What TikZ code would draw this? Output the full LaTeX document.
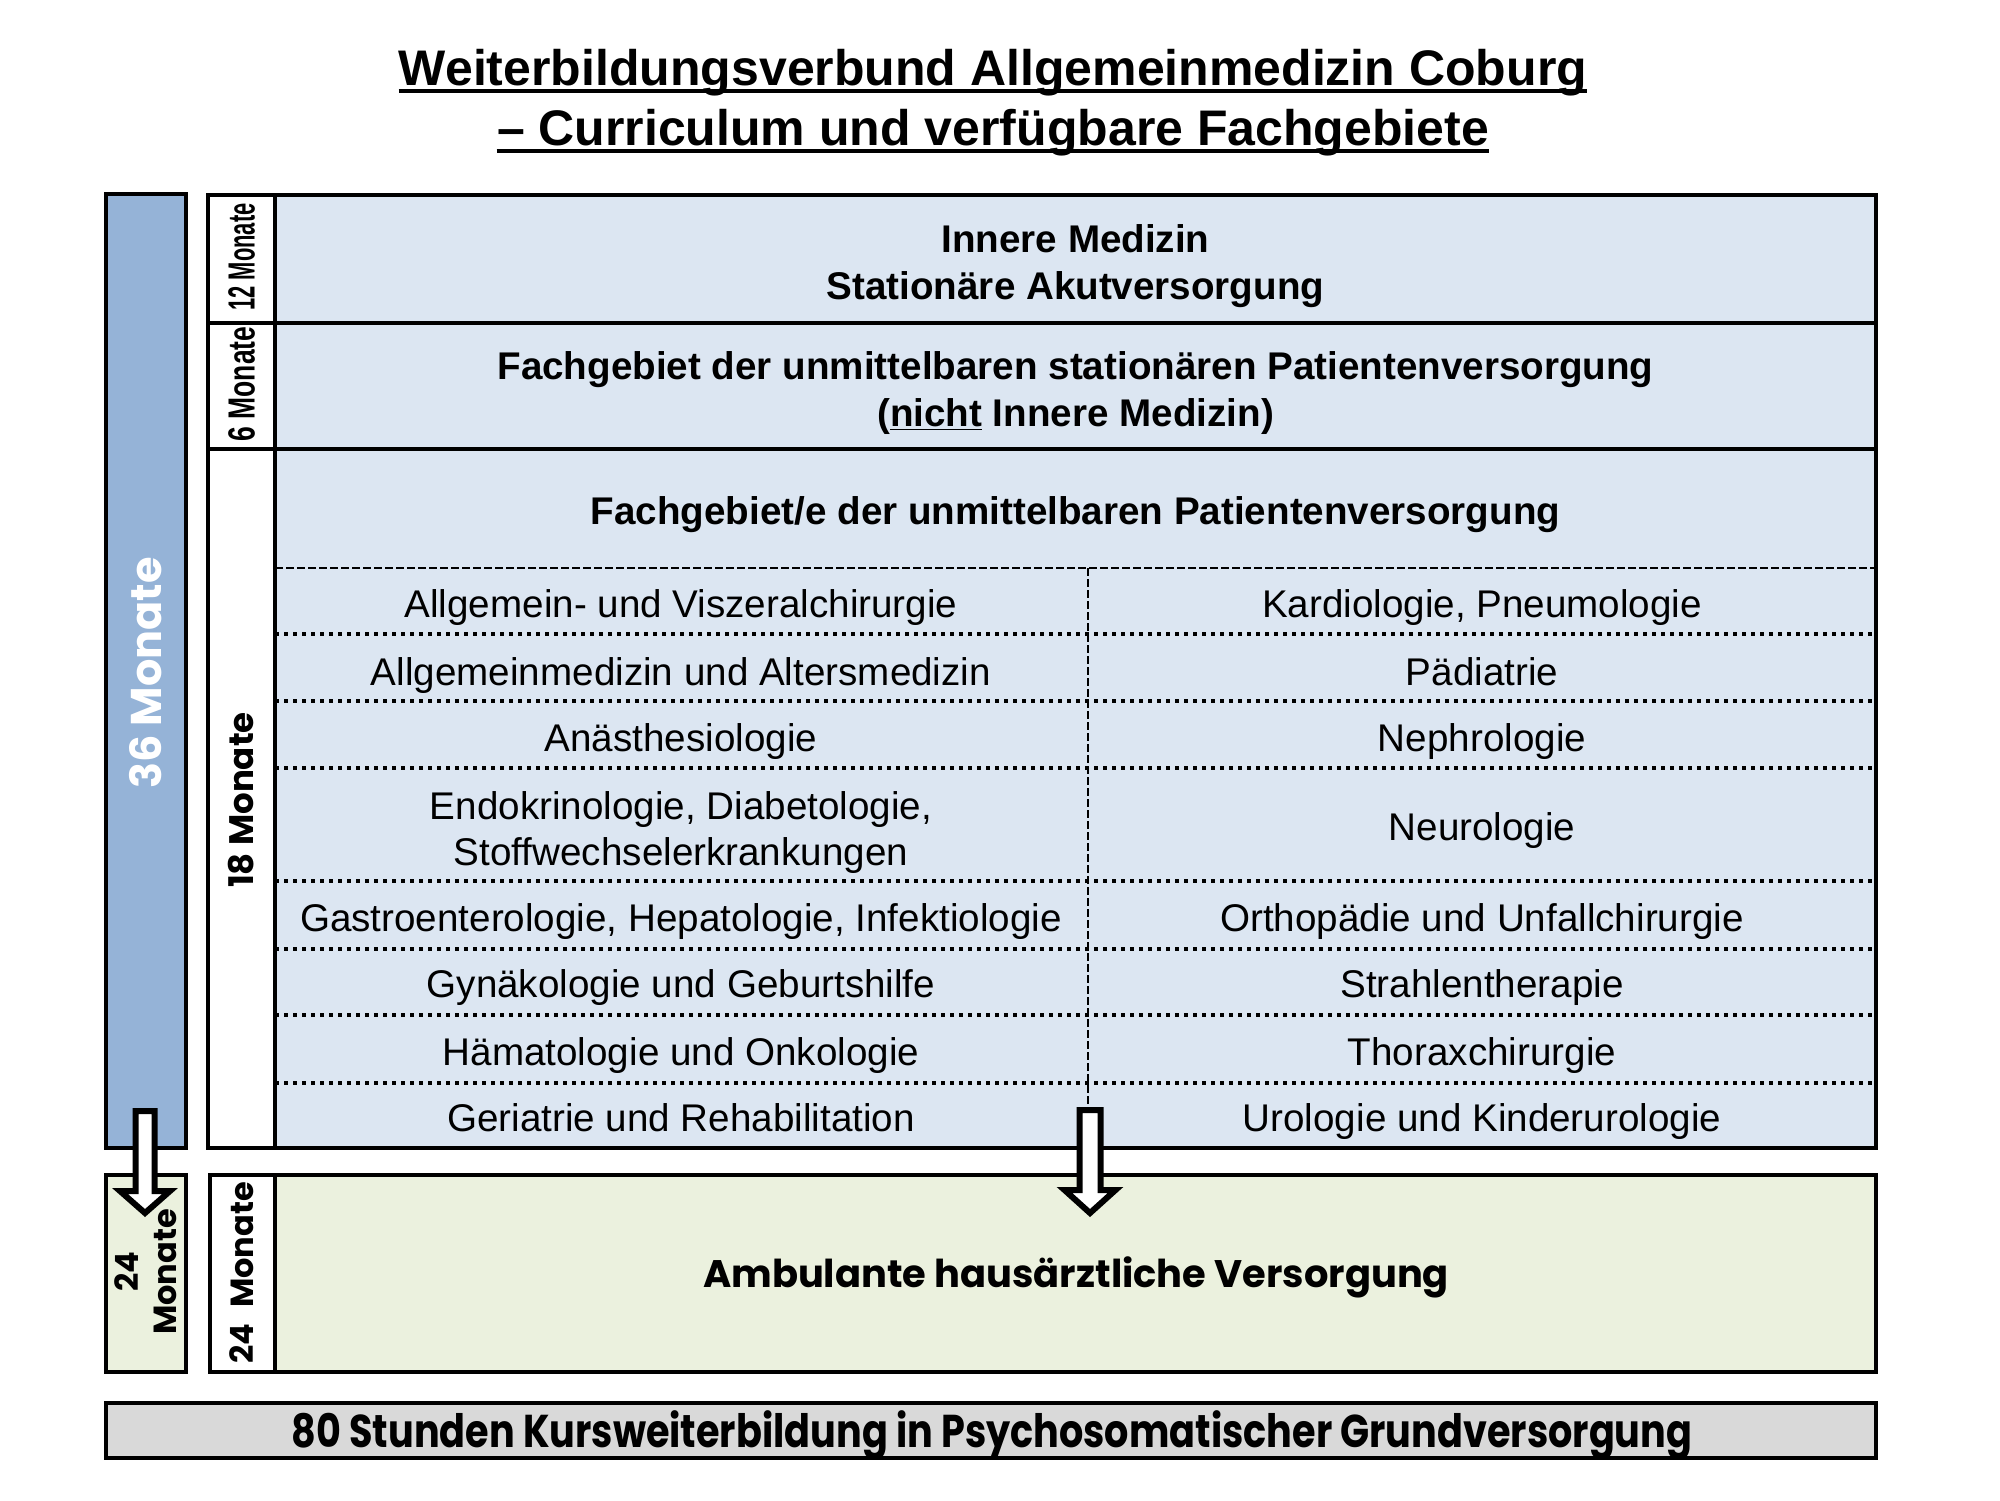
\documentclass[tikz,border=0pt]{standalone}
\usepackage{fontspec}
\setmainfont{Liberation Sans}
\newfontfamily\geofont{Poppins}
\definecolor{barblue}{HTML}{95B3D7}
\definecolor{lightblue}{HTML}{DCE6F2}
\definecolor{lightgreen}{HTML}{EBF1DE}
\definecolor{lightgray}{HTML}{D9D9D9}
\tikzset{
 box/.style={draw=black, line width=2.2pt},
 rowline/.style={line width=2.2pt},
 dotline/.style={line width=2pt, dash pattern=on 2pt off 2.5pt},
 dashline/.style={line width=1.4pt, dash pattern=on 4pt off 1.5pt},
 ttl/.style={font=\fontsize{25}{30}\selectfont\bfseries, inner sep=0pt, anchor=base},
 head/.style={font=\fontsize{19.3}{23.5}\selectfont\bfseries, align=center, inner sep=0pt, anchor=base},
 item/.style={font=\fontsize{19.3}{23}\selectfont, align=center, inner sep=0pt, anchor=base},
 narrowlbl/.style={font=\fontsize{18.9}{20}\selectfont\bfseries, inner sep=0pt, rotate=90},
 geolbl/.style={font=\geofont\bfseries\fontsize{17}{20}\selectfont, inner sep=0pt, rotate=90},
 blockarrow/.style={draw=black, fill=white, line width=3pt, line join=miter},
}
\begin{document}
\begin{tikzpicture}[x=0.5pt,y=-0.5pt]
\useasboundingbox[fill=white] (0,0) rectangle (2000,1500);
% title
\node[ttl] (t1) at (993,85.5) {Weiterbildungsverbund Allgemeinmedizin Coburg};
\node[ttl] (t2) at (993,145.5) {– Curriculum und verfügbare Fachgebiete};
\draw[line width=2pt] ([yshift=-2.6pt]t1.base west) -- ([yshift=-2.6pt]t1.base east);
\draw[line width=2pt] ([yshift=-2.6pt]t2.base west) -- ([yshift=-2.6pt]t2.base east);
% left bar 36 Monate
\draw[box, fill=barblue] (106,194) rectangle (186,1148);
\node[geolbl, text=white, font=\geofont\bfseries\fontsize{21.5}{24}\selectfont] (m36) at (146,673) {36 Monate};
% upper main block
\fill[lightblue] (275,195) rectangle (1876,1148);
\draw[rowline] (208,323) -- (1876,323);
\draw[rowline] (208,449) -- (1876,449);
\draw[dashline] (275,568) -- (1876,568);
\foreach \yy in {634,701,768,881,949,1015,1083}
  \draw[dotline] (275,\yy) -- (1876,\yy);
\draw[dashline] (1088,568) -- (1088,1148);
\draw[box] (208,195) rectangle (1876,1148);
\draw[rowline] (275,195) -- (275,1148);
% lower block
\fill[lightgreen] (275,1175) rectangle (1876,1372);
\draw[box] (210,1175) rectangle (1876,1372);
\draw[rowline] (275,1175) -- (275,1372);
\draw[box, fill=lightgreen] (106,1175) rectangle (186,1372);
% gray bar
\draw[box, fill=lightgray] (106,1403) rectangle (1876,1458);
% header texts (base = last line)
\node[head] (r1) at (1075.5,299.7) {Innere Medizin\\Stationäre Akutversorgung};
\node[head] (r2) at (1075.5,426) {Fachgebiet der unmittelbaren stationären Patientenversorgung\\(\underline{nicht} Innere Medizin)};
\node[head] (r3) at (1075.5,524) {Fachgebiet/e der unmittelbaren Patientenversorgung};
% list items
\node[item] (l1) at (681,617) {Allgemein- und Viszeralchirurgie};
\node[item] (l2) at (681,685) {Allgemeinmedizin und Altersmedizin};
\node[item] (l3) at (681,751) {Anästhesiologie};
\node[item] (l4) at (681,865) {Endokrinologie, Diabetologie,\\Stoffwechselerkrankungen};
\node[item] (l5) at (681,931) {Gastroenterologie, Hepatologie, Infektiologie};
\node[item] (l6) at (681,997) {Gynäkologie und Geburtshilfe};
\node[item] (l7) at (681,1065) {Hämatologie und Onkologie};
\node[item] (l8) at (681,1131) {Geriatrie und Rehabilitation};
\node[item] (k1) at (1482,617) {Kardiologie, Pneumologie};
\node[item] (k2) at (1482,685) {Pädiatrie};
\node[item] (k3) at (1482,751) {Nephrologie};
\node[item] (k4) at (1482,840.5) {Neurologie};
\node[item] (k5) at (1482,931) {Orthopädie und Unfallchirurgie};
\node[item] (k6) at (1482,997) {Strahlentherapie};
\node[item] (k7) at (1482,1065) {Thoraxchirurgie};
\node[item] (k8) at (1482,1131) {Urologie und Kinderurologie};
% vertical labels
\node[narrowlbl] (m12) at (241.5,257) {\scalebox{0.58}[1]{12 Monate}};
\node[narrowlbl] (m6) at (241.5,384) {\scalebox{0.70}[1]{6 Monate}};
\node[geolbl] (m18) at (241.5,800) {18 Monate};
\node[geolbl, font=\geofont\bfseries\fontsize{16}{19}\selectfont] (m24) at (241.5,1273) {24\hspace{0.5em}Monate};
\node[geolbl, align=center, font=\geofont\bfseries\fontsize{16}{19}\selectfont] (m24l) at (146,1272) {24\\Monate};
% bottom texts
\node[font=\geofont\bfseries\fontsize{19.2}{22}\selectfont, inner sep=0pt, anchor=base] (amb) at (1076,1287.5) {Ambulante hausärztliche Versorgung};
\node[font=\geofont\bfseries\fontsize{23}{26}\selectfont, inner sep=0pt, anchor=base] (kurs) at (992,1447) {\scalebox{0.83}[1]{80 Stunden Kursweiterbildung in Psychosomatischer Grundversorgung}};
% block arrows
\draw[blockarrow] (1079.5,1110) -- (1100.5,1110) -- (1100.5,1190) -- (1115.5,1190) -- (1090,1213) -- (1064.5,1190) -- (1079.5,1190) -- cycle;
\draw[blockarrow] (135.5,1111) -- (154.5,1111) -- (154.5,1191) -- (170,1191) -- (145,1213) -- (120,1191) -- (135.5,1191) -- cycle;
\end{tikzpicture}
\end{document}
